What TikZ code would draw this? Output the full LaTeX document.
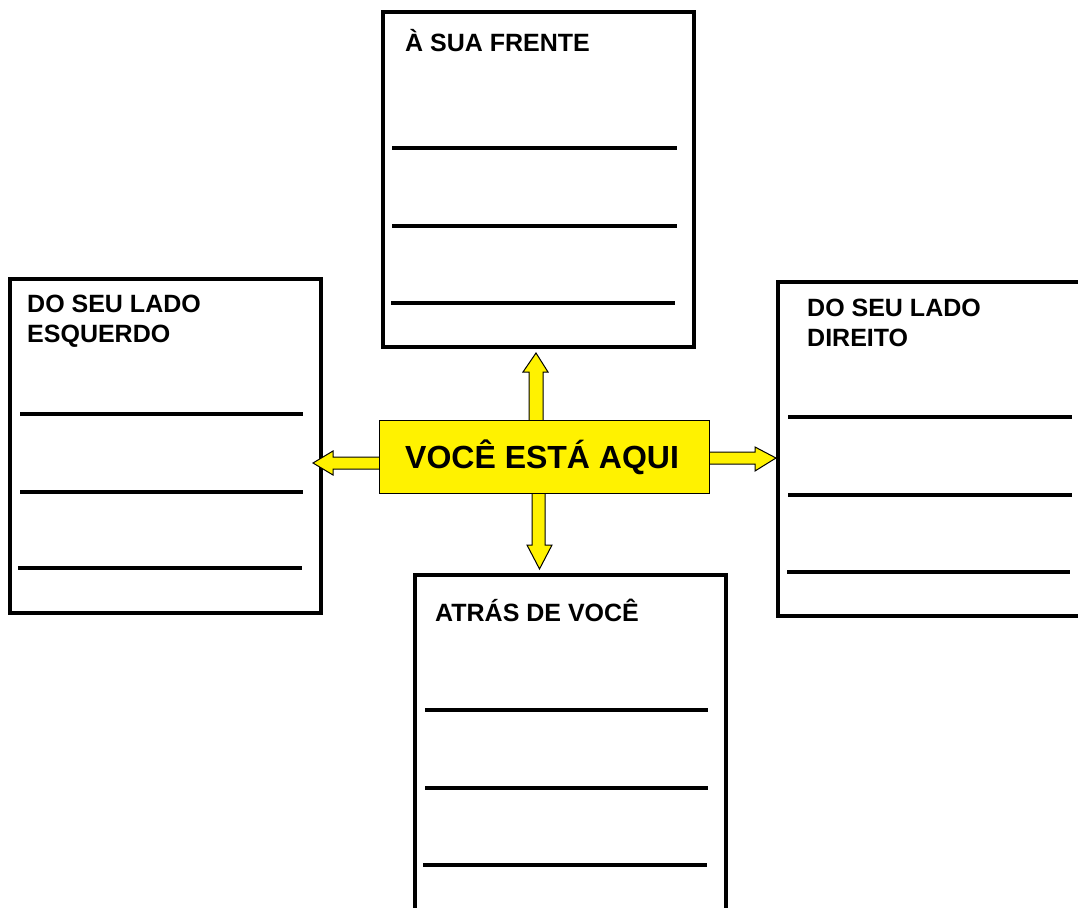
\documentclass[tikz,border=0pt]{standalone}
\usepackage{fontspec}
\setmainfont{Liberation Sans}
\definecolor{arrowyellow}{HTML}{FFF200}
\begin{document}
\begin{tikzpicture}[x=1pt,y=-1pt,
  panel/.style={draw=black,line width=4pt,fill=none},
  wline/.style={draw=black,line width=4pt},
  label/.style={anchor=base west,inner sep=0pt,align=left,font=\bfseries\fontsize{25}{30}\selectfont},
  blockarrow/.style={fill=arrowyellow,draw=black,line width=1pt,line join=miter}]
\useasboundingbox (0,0) rectangle (1078,907);
\clip (0,0) rectangle (1078,907);
% panels
\draw[panel] (383,12.5) rectangle (694,347);
\draw[panel] (10,279) rectangle (321,613);
\draw[panel] (778,282) rectangle (1092,616);
\draw[panel] (415,575) rectangle (726,912);
% writing lines
\draw[wline] (392,148) -- (677,148);
\draw[wline] (392,226) -- (677,226);
\draw[wline] (391,303) -- (675,303);
\draw[wline] (20,414) -- (303,414);
\draw[wline] (20,492) -- (303,492);
\draw[wline] (18,568) -- (302,568);
\draw[wline] (788,416.5) -- (1072,416.5);
\draw[wline] (788,495) -- (1072,495);
\draw[wline] (787,571.5) -- (1070,571.5);
\draw[wline] (425,710) -- (708,710);
\draw[wline] (425,788) -- (708,788);
\draw[wline] (423,865) -- (707,865);
% labels
\node[label] (tfront) at (405,51.5) {À SUA FRENTE};
\node[label] (tleft) at (27,342) {DO SEU LADO\\ESQUERDO};
\node[label] (tright) at (807,346) {DO SEU LADO\\DIREITO};
\node[label] (tback) at (435,621) {ATRÁS DE VOCÊ};
% arrows
\draw[blockarrow] (529,421) -- (529,372) -- (523,372) -- (536,353) -- (548,372) -- (543,372) -- (543,421) -- cycle;
\draw[blockarrow] (532,492) -- (532,545) -- (527,545) -- (539.5,569) -- (552,545) -- (545,545) -- (545,492) -- cycle;
\draw[blockarrow] (380,457) -- (333,457) -- (333,451) -- (313,463) -- (333,475) -- (333,469) -- (380,469) -- cycle;
\draw[blockarrow] (708,452) -- (755,452) -- (755,447) -- (776,458) -- (755,471) -- (755,464) -- (708,464) -- cycle;
% center
\node[draw=black,line width=1pt,fill=arrowyellow,minimum width=330pt,minimum height=73pt,inner sep=0pt] (c) at (544,456.5) {};
\node[anchor=base west,inner sep=0pt,font=\bfseries\fontsize{32}{36}\selectfont] (ctext) at (405,468) {VOCÊ ESTÁ AQUI};
\end{tikzpicture}
\end{document}
